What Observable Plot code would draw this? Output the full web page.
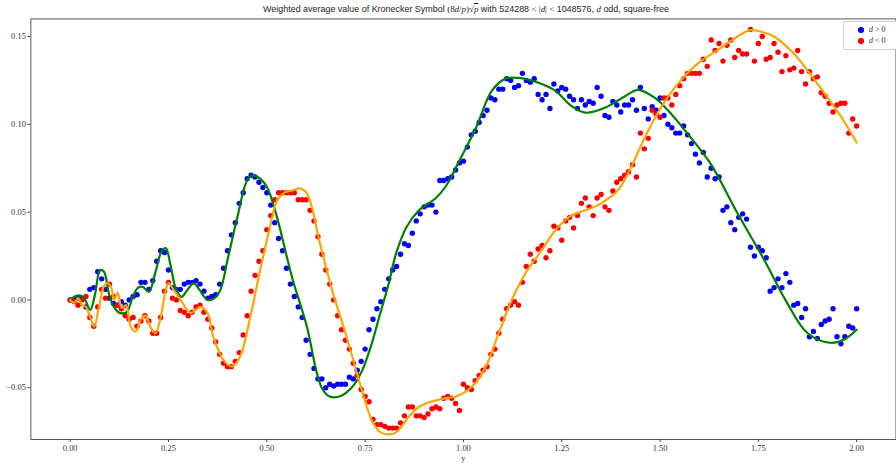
<!DOCTYPE html>
<html><head><meta charset="utf-8">
<script src="https://cdn.jsdelivr.net/npm/d3@7"></script>
<script src="https://cdn.jsdelivr.net/npm/@observablehq/plot@0.6"></script>
<style>
body{margin:0;background:#fff;}
#wrap{position:relative;width:896px;height:468px;overflow:hidden;background:#fff;}
#chart{position:absolute;left:0;top:0;}
#title{position:absolute;top:3px;left:0;white-space:nowrap;font-family:"Liberation Sans",sans-serif;font-size:10px;color:#222;line-height:12px;}
#title .m{font-family:"Liberation Serif",serif;}
#legend{position:absolute;left:843px;top:21px;width:52px;height:27px;border:1px solid #d0d0d0;border-radius:2px;background:#fff;font-family:"Liberation Serif",serif;font-size:8px;color:#333;}
#legend .row{position:absolute;left:0;height:10px;line-height:10px;}
#legend .dot{position:absolute;left:14px;top:2px;width:5.5px;height:5.5px;border-radius:50%;}
#legend .lab{position:absolute;left:25px;top:0;white-space:nowrap;}
</style></head><body>
<div id="wrap"><div id="chart"></div>
<div id="title">Weighted average value of Kronecker Symbol <span class="m">(8<i>d</i>/<i>p</i>)√<span style="text-decoration:overline"><i>p</i></span></span> with 524288 <span class="m">&lt; |<i>d</i>| &lt;</span> 1048576, <i class="m">d</i> odd, square-free</div>
<div id="legend">
<div class="row" style="top:3px"><span class="dot" style="background:#0000ff"></span><span class="lab"><i>d</i> &gt; 0</span></div>
<div class="row" style="top:14px"><span class="dot" style="background:#ff0000"></span><span class="lab"><i>d</i> &lt; 0</span></div>
</div>
</div>
<script>
// sampling grid of the averages: y = 0.00, 0.01, ..., 2.00
const xGrid = d3.range(201).map(i => i / 100);

// d > 0 (blue dots)
const posValues = [
0.000, 0.000, 0.001, 0.001, -0.004, 0.006, 0.007, 0.016, 0.012, 0.006,
0.001, -0.002, -0.003, -0.001, -0.003, 0.000, 0.002, 0.003, 0.010, 0.010,
0.006, 0.011, 0.022, 0.028, 0.027, 0.017, 0.007, 0.006, 0.006, 0.009,
0.010, 0.010, 0.011, 0.009, 0.005, 0.001, 0.002, 0.003, 0.009, 0.018,
0.028, 0.037, 0.044, 0.055, 0.061, 0.069, 0.071, 0.070, 0.067, 0.064,
0.061, 0.054, 0.044, 0.035, 0.028, 0.018, 0.009, 0.002, -0.004, -0.010,
-0.023, -0.031, -0.039, -0.045, -0.045, -0.050, -0.048, -0.049, -0.048, -0.048,
-0.048, -0.044, -0.045, -0.040, -0.035, -0.028, -0.017, -0.011, -0.005, -0.001,
0.006, 0.012, 0.017, 0.019, 0.026, 0.032, 0.031, 0.038, 0.045, 0.049,
0.053, 0.054, 0.054, 0.050, 0.068, 0.068, 0.069, 0.070, 0.074, 0.078,
0.079, 0.087, 0.094, 0.096, 0.101, 0.105, 0.108, 0.115, 0.114, 0.120,
0.120, 0.126, 0.125, 0.121, 0.122, 0.129, 0.125, 0.124, 0.126, 0.117,
0.114, 0.117, 0.109, 0.123, 0.119, 0.121, 0.120, 0.116, 0.114, 0.109,
0.114, 0.111, 0.113, 0.112, 0.121, 0.116, 0.105, 0.104, 0.113, 0.111,
0.107, 0.111, 0.111, 0.114, 0.108, 0.121, 0.109, 0.103, 0.110, 0.108,
0.115, 0.105, 0.100, 0.098, 0.095, 0.095, 0.099, 0.094, 0.089, 0.083,
0.078, 0.084, 0.070, 0.075, 0.069, 0.070, 0.051, 0.053, 0.044, 0.040,
0.047, 0.049, 0.046, 0.030, 0.025, 0.030, 0.028, 0.024, 0.005, 0.007,
0.012, 0.007, 0.015, 0.010, -0.003, -0.002, -0.010, -0.005, -0.021, -0.018,
-0.022, -0.014, -0.012, -0.011, -0.005, -0.021, -0.025, -0.021, -0.015, -0.016,
-0.005];

// d < 0 (red dots)
const negValues = [
0.000, -0.001, -0.003, 0.000, 0.002, -0.010, -0.015, -0.004, 0.006, 0.001,
0.009, 0.002, -0.003, -0.005, -0.009, -0.011, -0.010, -0.015, -0.012, -0.009,
-0.012, -0.019, -0.019, -0.010, 0.005, 0.010, 0.001, 0.000, -0.006, -0.007,
-0.009, -0.007, -0.004, -0.003, -0.007, -0.011, -0.016, -0.024, -0.031, -0.036,
-0.038, -0.038, -0.035, -0.030, -0.020, -0.009, 0.005, 0.014, 0.022, 0.028,
0.040, 0.048, 0.057, 0.061, 0.061, 0.061, 0.061, 0.061, 0.057, 0.057,
0.057, 0.051, 0.045, 0.036, 0.026, 0.017, 0.009, 0.000, -0.009, -0.017,
-0.023, -0.028, -0.036, -0.043, -0.051, -0.055, -0.058, -0.068, -0.071, -0.071,
-0.072, -0.073, -0.073, -0.073, -0.070, -0.066, -0.061, -0.061, -0.066, -0.066,
-0.067, -0.065, -0.062, -0.061, -0.062, -0.056, -0.055, -0.056, -0.059, -0.063,
-0.048, -0.050, -0.051, -0.046, -0.043, -0.040, -0.038, -0.031, -0.028, -0.019,
-0.011, -0.005, -0.003, -0.001, -0.003, 0.010, 0.019, 0.026, 0.022, 0.029,
0.031, 0.024, 0.028, 0.042, 0.041, 0.034, 0.045, 0.047, 0.041, 0.048,
0.055, 0.058, 0.053, 0.048, 0.058, 0.060, 0.053, 0.051, 0.062, 0.067,
0.069, 0.071, 0.073, 0.077, 0.070, 0.095, 0.086, 0.092, 0.108, 0.106,
0.104, 0.115, 0.115, 0.111, 0.117, 0.122, 0.126, 0.129, 0.129, 0.129,
0.129, 0.137, 0.133, 0.148, 0.142, 0.146, 0.136, 0.145, 0.148, 0.138,
0.142, 0.140, 0.140, 0.154, 0.136, 0.146, 0.150, 0.137, 0.138, 0.146,
0.141, 0.130, 0.139, 0.131, 0.132, 0.142, 0.130, 0.123, 0.130, 0.126,
0.127, 0.118, 0.116, 0.112, 0.107, 0.111, 0.112, 0.112, 0.095, 0.103,
0.099];

// smooth fit for d > 0 (green)
const posFitX = [0, 0.015, 0.028, 0.038, 0.051, 0.063, 0.076, 0.086, 0.099, 0.111, 0.126, 0.144, 0.159, 0.172, 0.185, 0.200, 0.217, 0.233, 0.243, 0.255, 0.268, 0.283, 0.298, 0.314, 0.329, 0.349, 0.367, 0.382, 0.400, 0.425, 0.450, 0.465, 0.483, 0.501, 0.526, 0.551, 0.566, 0.602, 0.627, 0.642, 0.660, 0.685, 0.703, 0.723, 0.743, 0.766, 0.786, 0.809, 0.829, 0.855, 0.887, 0.930, 0.956, 0.989, 1.032, 1.072, 1.107, 1.140, 1.191, 1.234, 1.274, 1.310, 1.360, 1.411, 1.444, 1.487, 1.520, 1.570, 1.628, 1.697, 1.765, 1.823, 1.874, 1.932, 1.967, 2.0];
const posFitY = [0, 0.0023, 0.0023, 0, -0.0057, 0.003, 0.017, 0.016, 0.003, -0.004, -0.0074, -0.0068, 0.0017, 0.0068, 0.0074, 0.0045, 0.016, 0.028, 0.0295, 0.020, 0.0068, 0.0017, 0.0057, 0.0096, 0.0057, 0.0, 0.001, 0.0057, 0.0227, 0.047, 0.068, 0.0709, 0.069, 0.064, 0.047, 0.0244, 0.0113, -0.0153, -0.0414, -0.051, -0.055, -0.055, -0.0527, -0.048, -0.040, -0.0255, -0.0096, 0.0085, 0.0266, 0.0414, 0.051, 0.058, 0.065, 0.079, 0.098, 0.119, 0.126, 0.1264, 0.1236, 0.119, 0.1105, 0.1066, 0.1094, 0.116, 0.1196, 0.115, 0.108, 0.0947, 0.0777, 0.0493, 0.0227, -0.0017, -0.0187, -0.0244, -0.0227, -0.017];

// smooth fit for d < 0 (orange)
const negFitX = [0, 0.010, 0.020, 0.030, 0.040, 0.051, 0.061, 0.073, 0.086, 0.094, 0.104, 0.111, 0.121, 0.131, 0.142, 0.154, 0.167, 0.180, 0.192, 0.205, 0.217, 0.230, 0.243, 0.250, 0.263, 0.281, 0.306, 0.331, 0.349, 0.364, 0.389, 0.412, 0.432, 0.458, 0.483, 0.508, 0.526, 0.546, 0.566, 0.584, 0.602, 0.635, 0.668, 0.703, 0.736, 0.769, 0.786, 0.804, 0.829, 0.862, 0.888, 0.920, 0.963, 0.981, 1.022, 1.057, 1.090, 1.123, 1.158, 1.199, 1.234, 1.274, 1.310, 1.350, 1.393, 1.426, 1.461, 1.502, 1.545, 1.595, 1.654, 1.697, 1.729, 1.760, 1.790, 1.841, 1.891, 1.932, 1.967, 2.0];
const negFitY = [0, -0.0017, 0.001, -0.003, -0.004, -0.010, -0.0153, -0.004, 0.008, 0.0096, 0.0074, 0, 0.004, -0.0045, -0.003, -0.0153, -0.018, -0.011, -0.009, -0.0159, -0.019, -0.010, 0.0057, 0.0096, 0.0057, 0, -0.0074, -0.004, -0.0074, -0.021, -0.034, -0.038, -0.0323, -0.0096, 0.017, 0.0414, 0.0567, 0.0612, 0.0624, 0.0635, 0.0607, 0.0323, 0.004, -0.021, -0.047, -0.0697, -0.0748, -0.0765, -0.0754, -0.0663, -0.0607, -0.0578, -0.0556, -0.055, -0.0493, -0.038, -0.0187, 0, 0.0153, 0.0283, 0.0397, 0.048, 0.051, 0.055, 0.0624, 0.0754, 0.0924, 0.1094, 0.123, 0.1344, 0.1434, 0.150, 0.1536, 0.1525, 0.150, 0.140, 0.1259, 0.1134, 0.102, 0.0896];

const xTicks = [0, 0.25, 0.5, 0.75, 1.0, 1.25, 1.5, 1.75, 2.0];
const yTicks = [-0.05, 0, 0.05, 0.10, 0.15];
const xLabel = "y";

const posData = xGrid.map((x, i) => ({x, y: posValues[i]}));
const negData = xGrid.map((x, i) => ({x, y: negValues[i]}));
const posFit = posFitX.map((x, i) => ({x, y: posFitY[i]}));
const negFit = negFitX.map((x, i) => ({x, y: negFitY[i]}));
const fmt = d3.format(".2f");

const chart = Plot.plot({
  width: 900, height: 468,
  marginLeft: 30.5, marginRight: 0.5, marginTop: 18.5, marginBottom: 27,
  x: {domain: [-0.1, 2.1]},
  y: {domain: [-0.0795, 0.160]},
  style: {fontFamily: "Liberation Serif, serif", fontSize: "8.5px", color: "#333", background: "white"},
  marks: [
    Plot.dot(posData, {x: "x", y: "y", r: 2.7, fill: "#0000ff", stroke: "none"}),
    Plot.dot(negData, {x: "x", y: "y", r: 2.7, fill: "#ff0000", stroke: "none"}),
    Plot.line(posFit, {x: "x", y: "y", stroke: "green", strokeWidth: 2.2, curve: "catmull-rom"}),
    Plot.line(negFit, {x: "x", y: "y", stroke: "orange", strokeWidth: 2.2, curve: "catmull-rom"}),
    Plot.frame({stroke: "#444", strokeWidth: 0.9}),
    Plot.axisX({ticks: xTicks, tickFormat: fmt, tickSize: 3, tickPadding: 2, label: null, stroke: "#444"}),
    Plot.axisY({ticks: yTicks, tickFormat: fmt, tickSize: 3, tickPadding: 2, label: null, stroke: "#444"}),
    Plot.text([xLabel], {frameAnchor: "bottom", dy: 21.5, text: d => d, fontSize: 8.5, fill: "#333"})
  ]
});
document.getElementById("chart").appendChild(chart);

// fit the title width to the axes' title span
const t = document.getElementById("title");
const w = t.getBoundingClientRect().width;
t.style.fontSize = (10 * 407 / w) + "px";
const w2 = t.getBoundingClientRect().width;
t.style.left = (466 - w2 / 2) + "px";
</script>
</body></html>
